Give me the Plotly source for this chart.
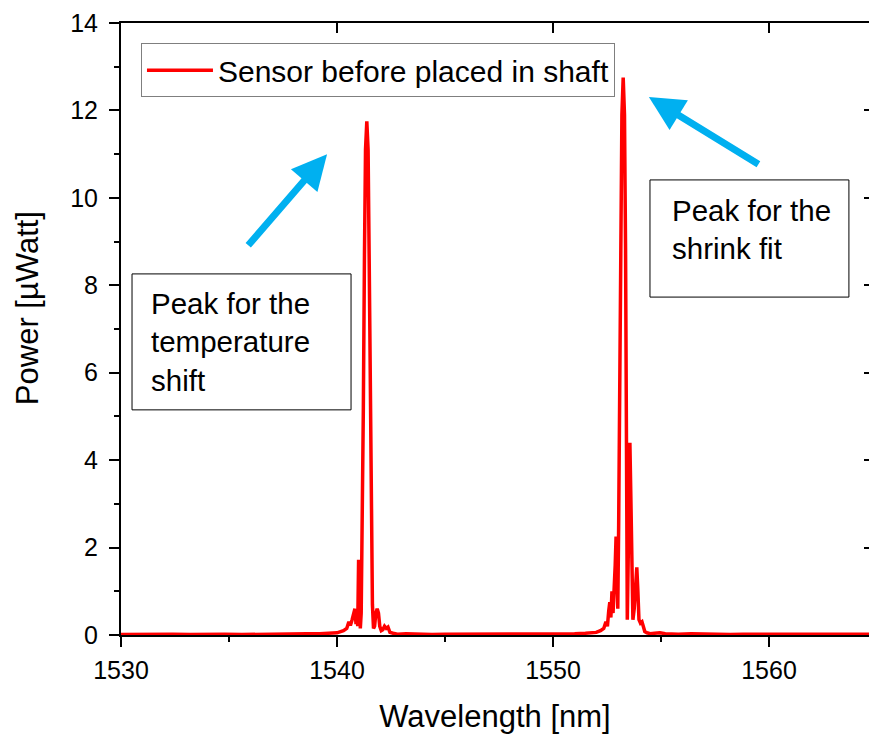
import plotly.graph_objects as go

# ---- data ----
wavelength_nm = [
    1530.0, 1530.8, 1531.6, 1532.4, 1533.2, 1534.0, 1534.8, 1535.6, 1536.4, 1537.2,
    1538.0, 1538.6, 1539.2, 1539.6, 1540.0, 1540.3, 1540.45, 1540.55, 1540.62, 1540.7,
    1540.78, 1540.83, 1540.88, 1540.92, 1540.96, 1541.0, 1541.04, 1541.08, 1541.12, 1541.17,
    1541.22, 1541.27, 1541.32, 1541.38, 1541.44, 1541.49, 1541.54, 1541.59, 1541.64, 1541.69,
    1541.74, 1541.8, 1541.86, 1541.92, 1541.98, 1542.05, 1542.12, 1542.2, 1542.28, 1542.36,
    1542.45, 1542.6, 1542.8, 1543.2, 1543.8, 1544.4, 1545.0, 1545.6, 1546.2, 1546.8,
    1547.4, 1548.0, 1548.6, 1549.2, 1549.8, 1550.4, 1551.0, 1551.5, 1552.0, 1552.2,
    1552.35, 1552.45, 1552.52, 1552.58, 1552.63, 1552.68, 1552.73, 1552.78, 1552.84, 1552.88,
    1552.92, 1552.96, 1553.0, 1553.04, 1553.09, 1553.14, 1553.19, 1553.25, 1553.31, 1553.36,
    1553.4, 1553.44, 1553.49, 1553.53, 1553.56, 1553.61, 1553.66, 1553.7, 1553.76, 1553.82,
    1553.88, 1553.93, 1553.98, 1554.05, 1554.12, 1554.18, 1554.25, 1554.35, 1554.5, 1554.7,
    1554.95, 1555.2, 1555.8, 1556.4, 1557.0, 1557.6, 1558.2, 1558.8, 1559.4, 1560.0,
    1560.6, 1561.2, 1561.8, 1562.4, 1563.0, 1563.6, 1564.2, 1564.63,
]
power_uW = [
    0.01, 0.02, 0.01, 0.02, 0.01, 0.02, 0.02, 0.01, 0.02, 0.03,
    0.02, 0.03, 0.03, 0.04, 0.05, 0.10, 0.15, 0.30, 0.22, 0.35,
    0.50, 0.60, 0.25, 0.55, 0.20, 1.72, 1.50, 0.15, 0.50, 2.50,
    5.20, 8.60, 11.10, 11.75, 11.10, 8.60, 5.20, 2.50, 0.70, 0.15,
    0.20, 0.50, 0.60, 0.50, 0.20, 0.10, 0.12, 0.20, 0.15, 0.18,
    0.06, 0.04, 0.02, 0.03, 0.02, 0.01, 0.02, 0.02, 0.01, 0.02,
    0.02, 0.01, 0.02, 0.02, 0.03, 0.02, 0.03, 0.04, 0.06, 0.10,
    0.15, 0.30, 0.20, 0.55, 0.75, 0.40, 1.00, 0.50, 1.00, 1.60,
    2.25, 1.20, 0.60, 2.50, 5.80, 9.20, 11.90, 12.75, 11.90, 8.80,
    4.80, 0.35, 2.00, 4.00, 4.40, 3.00, 0.80, 0.35, 0.60, 1.30,
    1.55, 1.00, 0.35, 0.27, 0.30, 0.20, 0.08, 0.05, 0.03, 0.04,
    0.05, 0.03, 0.02, 0.03, 0.02, 0.02, 0.01, 0.02, 0.02, 0.01,
    0.02, 0.02, 0.01, 0.02, 0.02, 0.01, 0.02, 0.02,
]

series_name = "Sensor before placed in shaft"
x_title = "Wavelength [nm]"
y_title = "Power [µWatt]"
x_ticks = [1530, 1540, 1550, 1560]
y_ticks = [0, 2, 4, 6, 8, 10, 12, 14]
note_left = "Peak for the<br>temperature<br>shift"
note_right = "Peak for the<br>shrink fit"

X_RANGE = [1530, 1564.63]
Y_RANGE = [0, 14]
FONT = "Liberation Sans, Arial, sans-serif"
ARROW = "#00B0F0"

fig = go.Figure()
fig.add_trace(go.Scatter(
    x=wavelength_nm, y=power_uW, mode="lines", name=series_name,
    line=dict(color="#FF0000", width=3.5), cliponaxis=False,
))
# helper trace for the top / right tick-only axes
fig.add_trace(go.Scatter(x=[None], y=[None], xaxis="x2", yaxis="y2",
                         showlegend=False, hoverinfo="skip"))

fig.update_layout(
    width=869, height=735,
    margin=dict(l=121, r=0, t=23, b=100),
    paper_bgcolor="white", plot_bgcolor="white",
    font=dict(family=FONT, color="black"),
    showlegend=True,
    legend=dict(
        x=0.0267, y=0.967, xanchor="left", yanchor="top",
        bordercolor="#7f7f7f", borderwidth=1, bgcolor="white",
        font=dict(size=30, family=FONT),
        itemwidth=66, tracegroupgap=0,
    ),
    xaxis=dict(
        range=X_RANGE, tickvals=x_ticks, ticks="outside", ticklen=10, tickwidth=1.5,
        tickcolor="black", showline=True, linecolor="black", linewidth=2,
        mirror=True, showgrid=False, zeroline=False, layer="below traces",
        tickfont=dict(size=25), ticklabelstandoff=2,
        minor=dict(ticks="outside", ticklen=5, tickwidth=1.5,
                   tickcolor="black", dtick=5, showgrid=False),
        title=dict(text=x_title, font=dict(size=31), standoff=22),
    ),
    yaxis=dict(
        range=Y_RANGE, tickvals=y_ticks, ticks="outside", ticklen=10, tickwidth=1.5,
        tickcolor="black", showline=True, linecolor="black", linewidth=2,
        showgrid=False, zeroline=False, layer="below traces",
        tickfont=dict(size=25), ticklabelstandoff=6,
        minor=dict(ticks="outside", ticklen=5, tickwidth=1.5,
                   tickcolor="black", dtick=1, showgrid=False),
    ),
    xaxis2=dict(
        overlaying="x", side="top", range=X_RANGE, tickvals=[1540, 1550, 1560],
        ticks="inside", ticklen=10, tickwidth=1.5, tickcolor="black",
        showticklabels=False, showline=False, showgrid=False, zeroline=False,
    ),
    yaxis2=dict(
        overlaying="y", side="right", anchor="x2", range=Y_RANGE,
        tickvals=[2, 4, 6, 8, 10, 12], ticks="inside", ticklen=5, tickwidth=1.5,
        tickcolor="black", showticklabels=False, showline=False, showgrid=False,
        zeroline=False,
    ),
)

# text boxes
fig.add_shape(type="rect", xref="x", yref="y", x0=1530.51, x1=1540.65, y0=5.15, y1=8.26,
              line=dict(color="black", width=1), fillcolor="white", layer="above")
fig.add_shape(type="rect", xref="x", yref="y", x0=1554.49, x1=1563.70, y0=7.73, y1=10.41,
              line=dict(color="black", width=1), fillcolor="white", layer="above")

fig.add_annotation(x=1531.30, y=6.70, xref="x", yref="y", text=note_left, showarrow=False,
                   xanchor="left", yanchor="middle", align="left",
                   font=dict(size=29.5, family=FONT, color="black"))
fig.add_annotation(x=1555.40, y=9.27, xref="x", yref="y", text=note_right, showarrow=False,
                   xanchor="left", yanchor="middle", align="left",
                   font=dict(size=29.5, family=FONT, color="black"))

# arrows
fig.add_annotation(x=1539.54, y=11.0, ax=1535.83, ay=8.88, xref="x", yref="y",
                   axref="x", ayref="y", text="", showarrow=True, arrowhead=2,
                   arrowsize=1.0, arrowwidth=7, arrowcolor=ARROW, standoff=0)
fig.add_annotation(x=1554.44, y=12.31, ax=1559.58, ay=10.75, xref="x", yref="y",
                   axref="x", ayref="y", text="", showarrow=True, arrowhead=2,
                   arrowsize=1.0, arrowwidth=7, arrowcolor=ARROW, standoff=0)

# y axis title placed like the reference
fig.add_annotation(x=-0.1257, y=0.534, xref="paper", yref="paper", text=y_title,
                   showarrow=False, textangle=-90, xanchor="center", yanchor="middle",
                   font=dict(size=31, family=FONT, color="black"))

fig.write_html("out.html")
